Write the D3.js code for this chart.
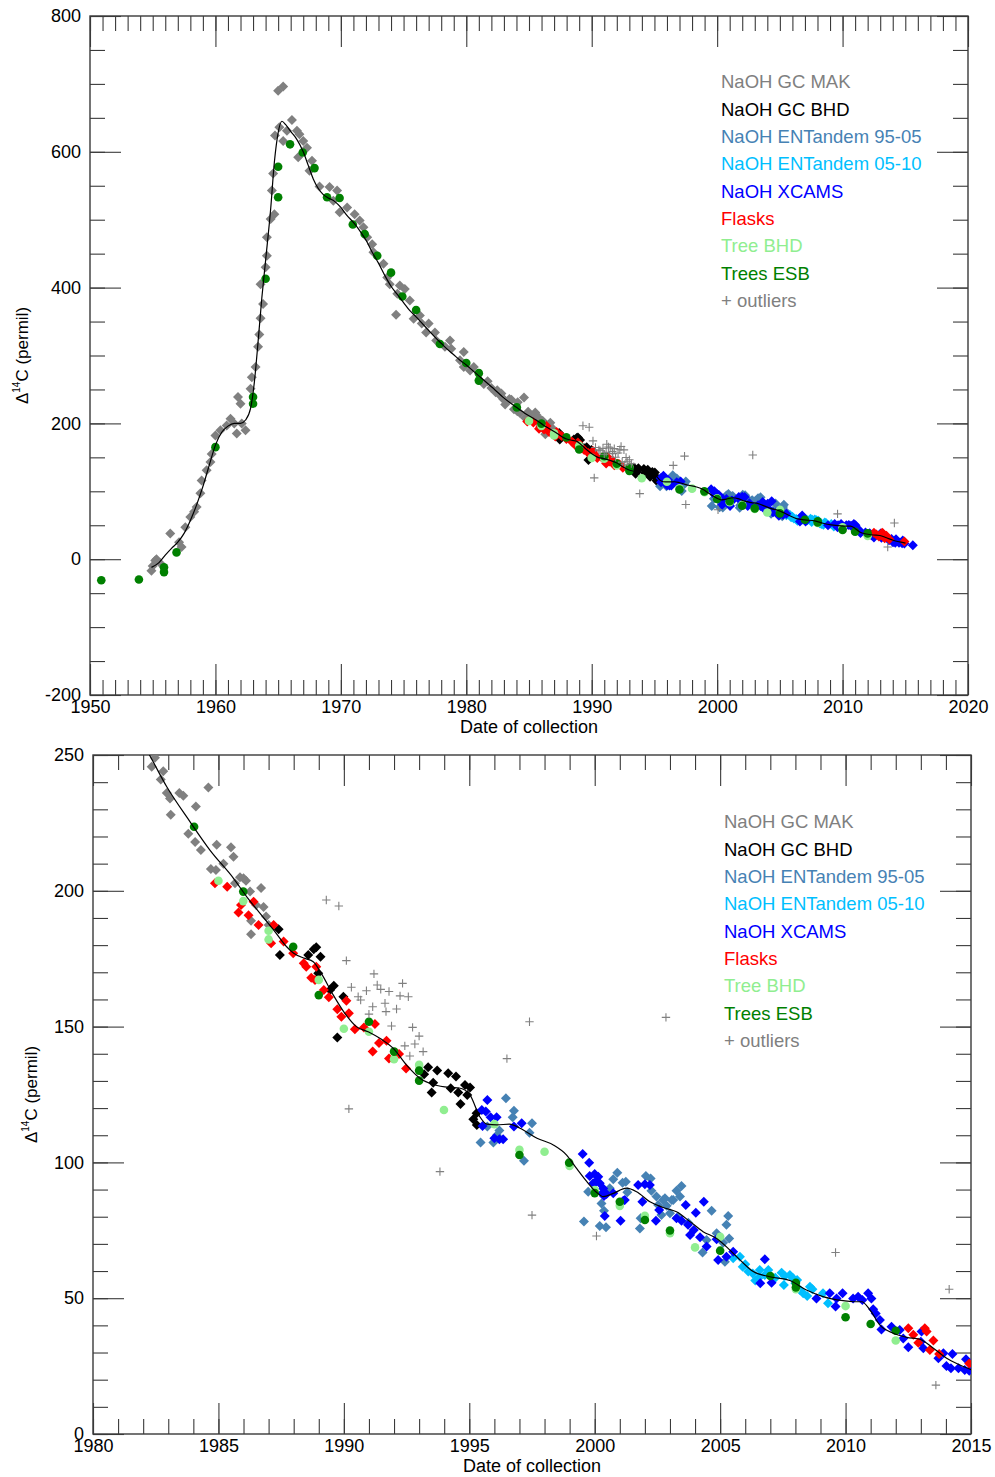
<!DOCTYPE html>
<html>
<head>
<meta charset="utf-8">
<script src="https://cdn.jsdelivr.net/npm/d3@7"></script>
<style>
  body { margin: 0; background: #fff; }
  svg { display: block; font-family: "Liberation Sans", Arial, Helvetica, sans-serif; }
</style>
</head>
<body>
<div id="chart"></div>
<script>
// ---- data: [year, delta14C permil] ----
const naohGcMak = [
  [1954.9,-17],[1955.2,-2],[1955.3,0],[1955.6,-6],[1955.0,-10],[1956.4,38],[1957.3,18],[1957.1,25],[1957.6,47],
  [1958.0,62],[1958.3,70],[1958.5,77],[1958.8,97],[1958.9,116],[1959.3,131],[1959.6,143],[1959.7,155],[1960.0,182],
  [1960.4,190],[1960.9,197],[1961.2,207],[1961.5,200],[1961.7,185],[1961.8,239],[1962.0,229],[1962.1,200],[1962.4,190],
  [1962.8,251],[1962.9,268],[1963.2,283],[1963.4,313],[1963.5,331],[1963.6,355],[1963.8,376],[1963.6,405],[1964.0,430],
  [1964.1,447],[1964.1,474],[1964.4,501],[1964.7,508],[1964.5,543],[1964.6,568],[1964.75,624],[1965.0,690],[1965.4,696],
  [1965.1,636],[1965.4,616],[1965.7,631],[1966.1,647],[1966.5,631],[1966.7,626],[1967.0,616],[1966.6,592],[1967.3,606],
  [1967.7,587],[1967.5,572],[1968.3,549],[1969.1,548],[1969.4,528],[1969.7,543],[1969.9,511],[1970.5,518],[1971.1,508],
  [1971.5,499],[1971.8,489],[1972.1,474],[1972.5,464],[1972.6,452],[1973.4,435],[1973.7,415],[1973.9,405],[1974.7,403],
  [1975.1,398],[1974.5,391],[1974.4,360],[1975.5,381],[1975.8,354],[1976.3,359],[1976.45,347],[1977.0,347],[1976.8,334],
  [1977.5,334],[1977.6,322],[1978.7,322],[1978.8,310],[1978.3,313],[1979.8,305],[1979.5,293],[1979.8,283],[1980.6,283],
  [1980.3,278],[1981.4,258],[1981.7,262],[1982.0,252],
  [1982.34,245.7],[1982.47,249],[1982.8,244],[1982.7,241],[1982.94,236],[1983.07,234],[1983.44,236],[1983.6,235],
  [1983.1,228],[1984.1,231],[1984.6,238],[1983.8,221],[1984.07,218],[1984.3,215],[1984.93,217],[1985.5,216],[1985.6,212.5],
  [1985.2,210],[1984.7,208],[1984.9,207.7],[1985.86,205],[1986.0,204.6],[1986.1,203.7],[1985.66,202.8],[1986.26,199.7],
  [1986.7,201],[1986.5,194.8],[1986.8,194],[1986.3,189],[1986.9,190.5],[1986.3,184],[1987.0,187.4]
];
const naohGcBhd = [
  [1987.4,185.8],[1987.45,176.4],[1988.58,176.4],[1988.8,178.5],[1988.9,179.2],[1989.07,175.7],[1988.98,169.6],
  [1989.45,163.5],[1989.6,165],[1989.98,161],[1989.74,146],[1993.36,135],[1993.2,132.5],[1993.72,133.8],[1994.16,132.8],
  [1994.47,131.6],[1993.56,129.3],[1994.26,127.3],[1994.83,128.5],[1995.03,127.6],[1994.56,125.7],[1993.5,125.7],
  [1994.92,124.8],[1994.65,121.5],[1995.29,118.1],[1995.16,115.9],[1995.3,113.8]
];
const naohEnt9505 = [
  [1995.45,107.3],[1995.72,113.2],[1995.96,107.3],[1996.2,111.7],[1996.1,110],[1996.46,123.6],[1996.78,119],
  [1996.73,116.6],[1997.4,110.9],[1997.5,114.4],[1997.18,100.6],[1999.57,78.2],[1999.74,89.2],[2000.2,76.6],
  [2000.45,76.1],[2000.27,84.9],[2000.37,82.2],[2000.74,93.8],[2000.9,96.2],[2001.11,92.5],[2001.24,92.9],[2000.6,90.5],
  [2001.3,89],[2001.83,79.4],[2001.8,75.7],[2002.04,95],[2002.23,94.1],[2002.26,89.6],[2002.46,87.4],[2002.53,84.3],
  [2002.73,86.2],[2002.87,84],[2003.07,86.2],[2003.26,89.6],[2003.46,91.3],[2003.4,87.4],[2002.66,80.6],[2003.0,81.3],
  [2003.33,80],[2003.73,77.8],[2004.66,82.2],[2005.32,80.3],[2005.25,77],[2004.86,73.9],[2005.36,72],[2005.12,70.4],
  [2005.19,63.4],[2004.3,66.8],[2004.46,71.4],[2003.13,86.2],[2002.8,86.8]
];
const naohEnt0510 = [
  [2005.52,64.7],[2005.79,65.3],[2005.9,61.6],[2006.0,62.5],[2006.12,59.8],[2006.3,59.1],[2006.4,56.5],[2006.52,57.3],
  [2006.58,60.4],[2006.78,58.5],[2006.92,60.4],[2007.2,57.5],[2007.45,59.4],[2007.58,58.2],[2007.78,58.5],[2007.91,57.3],
  [2007.54,54.9],[2008.0,55.5],[2008.07,56.7],[2008.18,53],[2008.31,51.8],[2008.47,50.8],[2008.58,54.2],[2008.68,53.3],
  [2009.1,51.8],[2009.3,48.1]
];
const naohXcams = [
  [1995.72,123],[1995.5,119.3],[1995.66,118.7],[1995.85,116.6],[1996.09,116.6],[1995.53,113.4],[1996.0,108.9],
  [1996.2,108.5],[1996.35,108.5],[1996.78,113.2],[1997.09,114.4],
  [1999.52,103.1],[1999.78,99.9],[1999.8,95],[2000.0,95.7],[2000.14,94.7],[2000.05,92.9],[2000.2,92.3],[2000.34,90.4],
  [2000.3,88.6],[2000.47,88.4],[1999.94,92.3],[2000.74,88.6],[2000.37,87.6],[2001.14,85.9],[2001.2,86.2],[2000.4,80.3],
  [2001.03,78.5],[2001.73,91.7],[2002.0,92],[2002.2,91.7],[2001.9,85.5],[2002.57,82.5],[2002.44,78.5],[2003.26,79.4],
  [2003.46,78.5],[2003.63,84.3],[2004.35,85.5],[2004.03,81.5],[2003.72,77],[2003.95,75.1],[2003.8,73.3],[2004.2,72.4],
  [2004.46,69],[2004.86,71.7],[2004.92,64.1],[2005.25,65.3],[2005.52,67.1],[2006.78,64.3],[2006.6,55.5],[2007.05,55.7],
  [2008.84,49.9],[2009.37,51.8],[2009.64,49.9],[2009.88,51.8],[2009.6,46.9],[2010.3,49.9],[2010.5,50.5],[2010.67,49.3],
  [2010.9,51.8],[2011.03,49.9],[2011.1,45.9],[2011.2,44.4],[2011.37,42],[2011.43,38.5],[2011.83,39.5],[2012.16,38.3],
  [2012.3,35.2],[2012.5,31.9],[2013.03,37.7],[2013.0,34],[2013.1,31.6],[2013.7,27.9],[2013.9,29.7],[2014.26,29.5],
  [2014.02,25],[2014.2,24.2],[2014.5,24.2],[2014.8,27.5],[2014.75,23.6],[2014.93,23.3],[2015.6,20.5]
];
const flasks = [
  [1984.86,202.8],[1985.35,201.5],[1985.8,192],[1985.9,194.8],[1986.2,191],[1986.4,196],[1986.6,187.4],[1987.2,187.4],
  [1987.1,180.7],[1987.6,181.3],[1987.98,177],[1988.4,173.3],[1988.5,172],[1988.9,172],[1988.7,168],[1988.85,167.2],
  [1989.2,163.5],[1989.4,160.8],[1989.74,156.4],[1990.1,159.5],[1990.2,154.9],[1989.9,153.6],[1990.44,149],[1990.8,149.7],
  [1991.24,151],[1991.4,144],[1991.15,140.8],[1991.7,144.8],[1991.8,138.3],[1992.08,140.4],[1992.2,139.9],[1992.48,134.6],
  [2012.5,38.9],[2012.7,36.5],[2012.9,33.6],[2013.16,38.9],[2013.23,37.7],[2013.5,34.4],[2013.36,30.9],[2013.73,29.5],
  [2014.93,26]
];
const treeBhd = [
  [1985.0,203.7],[1985.99,196.2],[1987.0,185.3],[1987.0,182.1],[1989.0,167.2],[1990.0,149.2],[1991.0,148.1],[1992.0,138],
  [1993.0,135.9],[1993.99,119.3],[1996.0,114.1],[1997.0,104.6],[1998.0,103.9],[1999.0,98.7],[2000.0,89.8],[2001.0,84],
  [2002.0,80.3],[2003.0,73.9],[2004.0,68.7],[2005.0,72.6],[2008.02,53.3],[2010.0,47.1],[2012.0,34.4]
];
const treesEsb = [
  [1950.9,-31],[1953.9,-30],[1955.9,-12],[1955.9,-19],[1956.9,10],[1960.0,165],[1963.0,239],[1963.0,229],[1964.0,413],
  [1965.0,578],[1965.0,533],[1965.95,611],[1966.96,599],[1967.9,576],[1968.9,533],[1969.9,532],[1970.95,493],[1971.9,479],
  [1972.9,447],[1974.0,422],[1974.9,387],[1976.0,367],[1977.9,317],[1980.0,289],[1981.0,274],[1981.0,263],[1984.03,223.6],
  [1985.99,199.7],[1987.98,179.4],[1989.0,161.6],[1991.0,151.8],[1992.0,140.8],[1993.0,133.8],[1993.0,130.1],[1997.0,102.7],
  [1998.98,99.9],[2000.0,88.7],[2001.0,85.5],[2002.0,78.8],[2003.0,74.9],[2005.0,67.5],[2007.0,58.2],[2008.02,55.7],
  [2008.02,54],[2010.0,43],[2011.0,40.5],[2012.0,38]
];
const outliers = [
  [1989.3,196.6],[1989.8,194.4],[1990.1,174.3],[1991.2,169.4],[1990.3,164.5],[1990.9,163.2],[1991.33,165.3],[1991.47,163.7],
  [1991.8,162.9],[1992.34,165.9],[1992.24,161.3],[1992.57,161],[1990.57,161],[1990.67,159.8],[1991.15,157.3],[1991.64,158.6],
  [1991.68,155.5],[1992.1,156.5],[1991.0,154.6],[1991.9,150.2],[1992.74,149.7],[1993.0,146.5],[1992.43,142.9],[1992.83,143.6],
  [1992.63,139.2],[1993.16,140.8],[1993.83,96.6],[1990.2,119.7],[1997.4,151.8],[1996.5,138.2],[1997.5,80.6],[2002.84,153.4],
  [2000.07,72.9],[2009.6,66.8],[2014.13,53.3],[2013.6,18]
];
const fitCurve = [
  [1954.9,-12],[1955.5,-5],[1956.0,6],[1956.5,16],[1957.0,25],[1957.5,38],[1958.0,57],[1958.5,80],[1959.0,107],[1959.5,138],
  [1960.0,168],[1960.5,187],[1961.0,196],[1961.5,200],[1962.0,200],[1962.4,205],[1962.8,222],[1963.1,260],[1963.4,320],
  [1963.7,385],[1964.0,440],[1964.4,515],[1964.7,585],[1965.0,628],[1965.3,645],[1965.6,640],[1966.0,630],[1966.5,618],
  [1967.0,600],[1967.4,580],[1967.8,560],[1968.2,546],[1968.6,537],[1969.0,532],[1969.5,527],[1970.0,518],[1970.5,506],
  [1971.0,496],[1971.5,484],[1972.0,470],[1972.5,452],[1973.0,436],[1973.5,418],[1974.0,402],[1974.5,390],[1975.0,378],
  [1975.5,366],[1976.0,357],[1976.5,347],[1977.0,337],[1977.5,327],[1978.0,318],[1978.5,309],[1979.0,301],[1979.5,293],
  [1980.0,286],[1980.5,278],[1981.0,270],[1981.5,262],[1982.0,254],[1982.25,250],[1982.94,238.3],[1983.87,225.4],
  [1984.66,215],[1985.6,204.6],[1986.13,197.8],[1986.66,191.7],[1987.25,185],[1987.72,179.4],[1988.0,177],[1988.45,175.1],
  [1988.78,173.9],[1989.1,169.6],[1989.58,161.6],[1990.04,154.9],[1990.5,150],[1990.97,148.1],[1991.5,145.3],[1991.97,142],
  [1992.5,135.8],[1993.03,131],[1993.6,128.6],[1994.23,127.6],[1994.6,127.4],[1995.03,124.8],[1995.42,116.8],[1995.7,114.1],
  [1996.1,113.8],[1996.6,114.1],[1997.02,112.6],[1997.7,108.9],[1998.35,106.4],[1998.88,102.7],[1999.3,97.5],[1999.68,93],
  [2000.07,89],[2000.34,87.4],[2000.74,88.6],[2001.27,90.5],[2001.67,89.2],[2002.2,85.5],[2002.73,83.4],[2003.26,81.8],
  [2003.8,78.2],[2004.32,74.5],[2004.86,72],[2005.39,67.7],[2005.79,64.1],[2006.32,59.8],[2006.98,57.9],[2007.78,56.5],
  [2008.44,53],[2009.1,50.6],[2009.9,49.1],[2010.3,48.7],[2010.64,48.7],[2010.97,45.7],[2011.37,40.1],[2011.9,37.1],
  [2012.44,35.6],[2012.96,34.9],[2013.5,31.6],[2014.03,27.9],[2014.56,25.4],[2015.02,23.6]
];

// series in drawing / legend order
const seriesList = [
  { name: "NaOH GC MAK",         data: naohGcMak,   color: "#808080", shape: "diamond" },
  { name: "NaOH GC BHD",         data: naohGcBhd,   color: "#000000", shape: "diamond" },
  { name: "NaOH ENTandem 95-05", data: naohEnt9505, color: "#4682b4", shape: "diamond" },
  { name: "NaOH ENTandem 05-10", data: naohEnt0510, color: "#00bfff", shape: "diamond" },
  { name: "NaOH XCAMS",          data: naohXcams,   color: "#0000ff", shape: "diamond" },
  { name: "Flasks",              data: flasks,      color: "#ff0000", shape: "diamond" },
  { name: "Tree BHD",            data: treeBhd,     color: "#90ee90", shape: "circle" },
  { name: "Trees ESB",           data: treesEsb,    color: "#008000", shape: "circle" },
  { name: "+\u00a0outliers",     data: outliers,    color: "#808080", shape: "plus" }
];

const panels = [
  { id: "top", left: 90, right: 968, top: 16, bottom: 695,
    xDomain: [1950, 2020], yDomain: [-200, 800], xMajor: 10, yMajor: 200, yMinor: 50,
    legendX: 721, legendY: 82, yTitleX: 22 },
  { id: "bot", left: 93, right: 971, top: 755, bottom: 1434,
    xDomain: [1980, 2015], yDomain: [0, 250], xMajor: 5, yMajor: 50, yMinor: 10,
    legendX: 724, legendY: 822, yTitleX: 31 }
];

const width = 995, height = 1477;
const svg = d3.select("#chart").append("svg")
    .attr("width", width)
    .attr("height", height);

const axisColor = "#3a3a3a";
const minorLen = 15, majorLen = 31;

const diamondPath = "M0,-5L5,0L0,5L-5,0Z";
const plusPath = "M-4.2,0H4.2M0,-4.2V4.2";

panels.forEach(p => {
    const x = d3.scaleLinear().domain(p.xDomain).range([p.left, p.right]);
    const y = d3.scaleLinear().domain(p.yDomain).range([p.bottom, p.top]);

    const xMinorVals = d3.range(p.xDomain[0], p.xDomain[1] + 0.001, 1);
    const xMajorVals = d3.range(p.xDomain[0], p.xDomain[1] + 0.001, p.xMajor);
    const yMinorVals = d3.range(p.yDomain[0], p.yDomain[1] + 0.001, p.yMinor);
    const yMajorVals = d3.range(p.yDomain[0], p.yDomain[1] + 0.001, p.yMajor);

    const styleAxis = g => {
        g.select(".domain").remove();
        g.selectAll(".tick line").attr("stroke", axisColor).attr("stroke-width", 1.1);
        g.selectAll(".tick text").attr("fill", "#000").attr("font-size", 18);
    };

    // minor ticks on all four sides
    svg.append("g").attr("transform", `translate(0,${p.bottom})`)
        .call(d3.axisBottom(x).tickValues(xMinorVals).tickSize(-minorLen).tickFormat(""))
        .call(styleAxis);
    svg.append("g").attr("transform", `translate(0,${p.top})`)
        .call(d3.axisTop(x).tickValues(xMinorVals).tickSize(-minorLen).tickFormat(""))
        .call(styleAxis);
    svg.append("g").attr("transform", `translate(${p.left},0)`)
        .call(d3.axisLeft(y).tickValues(yMinorVals).tickSize(-minorLen).tickFormat(""))
        .call(styleAxis);
    svg.append("g").attr("transform", `translate(${p.right},0)`)
        .call(d3.axisRight(y).tickValues(yMinorVals).tickSize(-minorLen).tickFormat(""))
        .call(styleAxis);

    // major ticks, labels on bottom and left
    svg.append("g").attr("transform", `translate(0,${p.bottom})`)
        .call(d3.axisBottom(x).tickValues(xMajorVals).tickSize(-majorLen).tickPadding(5).tickFormat(d => String(d)))
        .call(styleAxis);
    svg.append("g").attr("transform", `translate(0,${p.top})`)
        .call(d3.axisTop(x).tickValues(xMajorVals).tickSize(-majorLen).tickFormat(""))
        .call(styleAxis);
    svg.append("g").attr("transform", `translate(${p.left},0)`)
        .call(d3.axisLeft(y).tickValues(yMajorVals).tickSize(-majorLen).tickPadding(9).tickFormat(d => String(d)))
        .call(styleAxis);
    svg.append("g").attr("transform", `translate(${p.right},0)`)
        .call(d3.axisRight(y).tickValues(yMajorVals).tickSize(-majorLen).tickFormat(""))
        .call(styleAxis);

    // frame
    svg.append("rect")
        .attr("x", p.left).attr("y", p.top)
        .attr("width", p.right - p.left).attr("height", p.bottom - p.top)
        .attr("fill", "none").attr("stroke", axisColor).attr("stroke-width", 1.4);

    // clip for data
    svg.append("clipPath").attr("id", "clip-" + p.id)
        .append("rect")
        .attr("x", p.left).attr("y", p.top)
        .attr("width", p.right - p.left).attr("height", p.bottom - p.top);

    const plot = svg.append("g").attr("clip-path", `url(#clip-${p.id})`);

    seriesList.forEach(s => {
        const g = plot.append("g");
        if (s.shape === "circle") {
            g.selectAll("circle").data(s.data).enter().append("circle")
                .attr("cx", d => x(d[0])).attr("cy", d => y(d[1]))
                .attr("r", 4.3).attr("fill", s.color);
        } else if (s.shape === "diamond") {
            g.selectAll("path").data(s.data).enter().append("path")
                .attr("d", diamondPath)
                .attr("transform", d => `translate(${x(d[0])},${y(d[1])})`)
                .attr("fill", s.color);
        } else {
            g.selectAll("path").data(s.data).enter().append("path")
                .attr("d", plusPath)
                .attr("transform", d => `translate(${x(d[0])},${y(d[1])})`)
                .attr("fill", "none").attr("stroke", s.color).attr("stroke-width", 1.1);
        }
    });

    // smooth fit
    const line = d3.line()
        .x(d => x(d[0])).y(d => y(d[1]))
        .curve(d3.curveMonotoneX);
    plot.append("path")
        .datum(fitCurve)
        .attr("d", line)
        .attr("fill", "none")
        .attr("stroke", "#000")
        .attr("stroke-width", 1.2);

    // legend
    const legend = svg.append("g").attr("font-size", 18.5);
    seriesList.forEach((s, i) => {
        legend.append("text")
            .attr("x", p.legendX)
            .attr("y", p.legendY + i * 27.3)
            .attr("dy", "0.35em")
            .attr("fill", s.color)
            .text(s.name);
    });

    // axis titles
    svg.append("text")
        .attr("x", (p.left + p.right) / 2)
        .attr("y", p.bottom + 38)
        .attr("text-anchor", "middle")
        .attr("font-size", 18)
        .text("Date of collection");

    const yTitle = svg.append("text")
        .attr("transform", `translate(${p.yTitleX},${(p.top + p.bottom) / 2}) rotate(-90)`)
        .attr("text-anchor", "middle")
        .attr("dy", "0.35em")
        .attr("font-size", 17);
    yTitle.append("tspan").text("\u0394");
    yTitle.append("tspan").attr("font-size", 10).attr("dy", "-0.75em").text("14");
    yTitle.append("tspan").attr("dy", "0.45em").text("C (permil)");
});
</script>
</body>
</html>
